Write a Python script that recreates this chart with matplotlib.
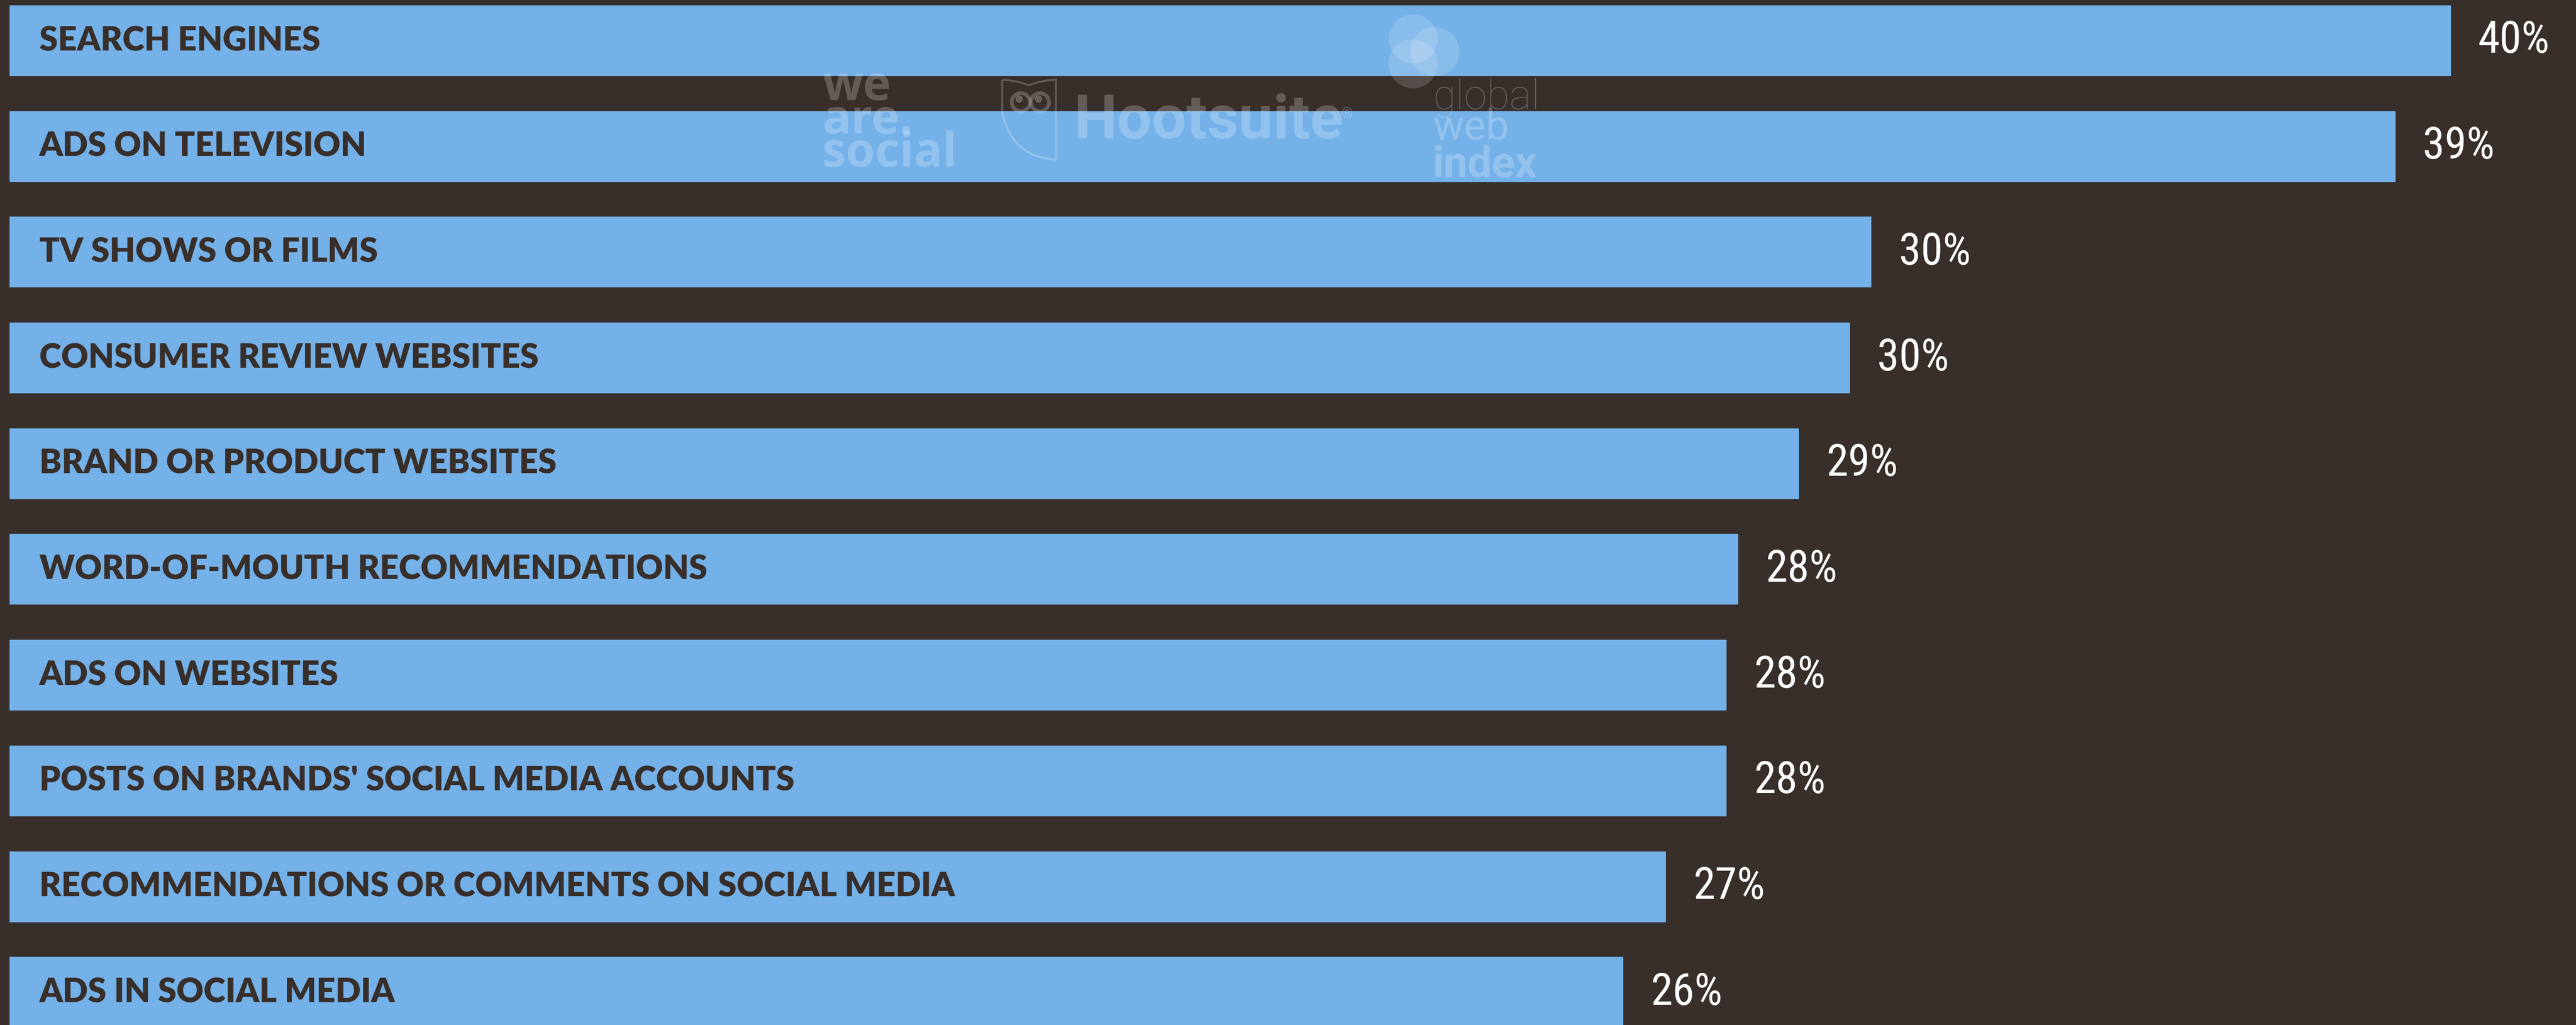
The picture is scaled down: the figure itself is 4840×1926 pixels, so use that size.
import numpy as np
import matplotlib.pyplot as plt
import matplotlib.transforms as mtransforms
from matplotlib.path import Path
from matplotlib.patches import PathPatch, Circle

categories = ['SEARCH ENGINES', 'ADS ON TELEVISION', 'TV SHOWS OR FILMS',
              'CONSUMER REVIEW WEBSITES', 'BRAND OR PRODUCT WEBSITES',
              'WORD-OF-MOUTH RECOMMENDATIONS', 'ADS ON WEBSITES',
              "POSTS ON BRANDS' SOCIAL MEDIA ACCOUNTS",
              'RECOMMENDATIONS OR COMMENTS ON SOCIAL MEDIA', 'ADS IN SOCIAL MEDIA']
values = np.array([39.71, 38.81, 30.29, 29.94, 29.11, 28.12, 27.93, 27.93, 26.94, 26.25])
value_labels = [f'{v:.0f}%' for v in values]

bg = '#382f2b'
bar_color = '#74b1e8'

W, H = 4840, 1926
fig = plt.figure(figsize=(W / 100, H / 100), dpi=100)
fig.patch.set_facecolor(bg)
ax = fig.add_axes([0, 0, 1, 1])
ax.set_facecolor(bg)

# bars
y = np.arange(len(categories))
px_per_unit = 115.5
pitch = 198.7
bars = ax.barh(y, values, height=133 / pitch, color=bar_color)
ax.set_xlim(-18 / px_per_unit, (W - 18) / px_per_unit)
ax.set_ylim((H - 76.5) / pitch, -76.5 / pitch)
ax.axis('off')

for i, cat in enumerate(categories):
    ax.text(56 / px_per_unit, i, cat, va='center', ha='left', fontsize=45,
            fontweight='heavy', family=['Lato', 'DejaVu Sans'], color=bg)

ax.bar_label(bars, labels=value_labels, padding=37, fontsize=60, color='white',
             fontstretch='condensed',
             family=['Roboto Condensed', 'Open Sans Condensed', 'Liberation Sans Narrow',
                     'DejaVu Sans Condensed', 'Roboto', 'DejaVu Sans'])

# faint logos (pixel coords from the top-left)
px = mtransforms.Affine2D().scale(1 / W, -1 / H).translate(0, 1) + fig.transFigure
wm = dict(color='white', alpha=0.22, transform=px, va='baseline', ha='left')

fig.text(1545, 188, 'we', fontsize=64, fontweight='bold', family='Open Sans', **wm)
fig.text(1545, 251, 'are.', fontsize=64, fontweight='bold', family='Open Sans', **wm)
fig.text(1545, 313, 'social', fontsize=64, fontweight='bold', family='Open Sans', **wm)

fig.text(2018, 260, 'Hootsuite', fontsize=83, fontweight='bold', family='Roboto', **wm)
fig.text(2520, 222, '®', fontsize=20, family='Roboto', **wm)

verts = [(1883, 150), (1905, 150), (1933, 160), (1960, 150), (1984, 150),
         (1984, 300), (1900, 295), (1883, 210), (1883, 150)]
codes = [Path.MOVETO, Path.CURVE3, Path.CURVE3, Path.CURVE3, Path.CURVE3,
         Path.LINETO, Path.CURVE3, Path.CURVE3, Path.LINETO]
fig.patches.append(PathPatch(Path(verts, codes), fill=False, edgecolor='white',
                             alpha=0.22, lw=2.5, transform=px))
for cx in (1918, 1954):
    fig.patches.append(Circle((cx, 192), 17, fill=False, edgecolor='white',
                              alpha=0.22, lw=5, transform=px))
    fig.patches.append(Circle((cx - 3, 186), 6, color='white', alpha=0.22, transform=px))

for cx, cy in [(2655, 73), (2696, 97), (2655, 120)]:
    fig.patches.append(Circle((cx, cy), 46, color='white', alpha=0.15, lw=0, transform=px))
fig.text(2692, 205, 'global', fontsize=56, fontweight='light', family='Roboto', **wm)
fig.text(2692, 262, 'web', fontsize=56, fontweight='normal', family='Roboto', **wm)
fig.text(2692, 333, 'index', fontsize=58, fontweight='bold', family='Roboto', **wm)

plt.savefig('out.png', dpi=100, facecolor=bg)
